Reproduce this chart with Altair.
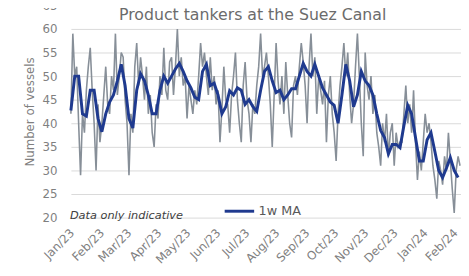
import altair as alt
import pandas as pd

title_text = "Product tankers at the Suez Canal"
y_title = "Number of vessels"
note_text = "Data only indicative"
ma_name = "1w MA"

# daily vessel counts, read every 2 days from 2023-01-01
gray_values = [
    42, 59, 50, 52, 40, 29, 42, 38, 47, 52, 56, 47, 40, 30, 44, 36, 40, 46, 52, 44,
    42, 50, 47, 59, 46, 50, 55, 54, 45, 40, 29, 42, 38, 52, 57, 48, 54, 50, 45, 52,
    42, 46, 38, 35, 44, 41, 50, 46, 56, 47, 45, 53, 54, 46, 52, 60, 50, 54, 48, 50,
    41, 48, 45, 42, 47, 44, 50, 57, 52, 55, 50, 46, 54, 47, 50, 44, 47, 36, 43, 52,
    45, 44, 38, 46, 50, 55, 45, 40, 36, 48, 53, 45, 42, 36, 44, 42, 48, 52, 59, 50,
    52, 55, 50, 44, 35, 46, 57, 49, 44, 50, 42, 53, 46, 40, 37, 48, 50, 46, 52, 57,
    53, 48, 40, 52, 59, 50, 54, 42, 50, 47, 44, 49, 36, 46, 50, 42, 38, 32, 42, 48,
    52, 57, 50, 55, 46, 40, 44, 52, 59, 50, 40, 33, 55, 48, 45, 50, 42, 46, 38, 35,
    31, 40, 36, 42, 33, 38, 40, 31, 38, 35, 36, 36, 42, 48, 40, 44, 38, 47, 36, 28,
    34, 30, 36, 42, 38, 40, 36, 31, 28, 24, 32, 30, 27, 33, 30, 38, 32, 26, 21, 30,
    33, 31,
]

# 1-week moving average, read every 4 days from 2023-01-01
ma_values = [
    42.7, 50, 50, 42, 41.5, 47, 47, 41, 38.2, 42, 44.5, 46, 49, 52.5, 48, 41, 39, 47, 50.5, 49,
    46, 42, 42, 47, 50, 48.5, 50, 51.5, 52.7, 51, 49, 47.5, 45.5, 45, 51, 52.5, 48, 48.5, 46, 42,
    43.5, 46.9, 46, 47.5, 47, 44, 45, 43.5, 42.5, 47, 51, 52, 49, 46.5, 47, 45, 46, 47.3, 47.3, 50,
    52.7, 51, 50, 52.5, 50, 47.5, 46, 44.5, 43.8, 40, 46, 52.5, 49, 43.5, 46, 51, 49, 48, 46, 42,
    38.5, 37, 33.5, 35.5, 35.5, 34.8, 39.5, 43.8, 42, 37, 32, 32, 36.5, 38, 34, 30, 28.5, 30.5, 32.7, 30,
    28.5,
]

y_ticks = [20, 25, 30, 35, 40, 45, 50, 55, 60, 65]
month_ticks = [(2023, m) for m in range(1, 13)] + [(2024, 1), (2024, 2)]

gray_df = pd.DataFrame({
    "date": pd.date_range("2023-01-01", periods=len(gray_values), freq="2D"),
    "vessels": gray_values,
})
ma_df = pd.DataFrame({
    "date": pd.date_range("2023-01-01", periods=len(ma_values), freq="4D"),
    "vessels": ma_values,
    "series": ma_name,
})

label_color = "#7f7f7f"

x_enc = alt.X(
    "date:T",
    scale=alt.Scale(domain=[alt.DateTime(year=2023, month=1, date=1),
                            alt.DateTime(year=2024, month=2, date=8)]),
    axis=alt.Axis(
        title=None,
        values=[alt.DateTime(year=y, month=m, date=1) for y, m in month_ticks],
        format="%b/%y",
        labelAngle=315,
        labelAlign="right",
        labelBaseline="middle",
        labelPadding=13,
        labelOffset=1,
        labelOverlap=False,
        labelFlush=False,
        labelBound=False,
        labelFont="DejaVu Sans",
        labelFontSize=12,
        labelColor=label_color,
        ticks=False,
        domain=False,
        grid=False,
    ),
)
y_enc = alt.Y(
    "vessels:Q",
    scale=alt.Scale(domain=[20, 65], nice=False, zero=False),
    axis=alt.Axis(
        title=y_title,
        values=y_ticks,
        labelFont="DejaVu Sans",
        labelFontSize=12,
        labelColor=label_color,
        labelPadding=14,
        titleFont="DejaVu Sans",
        titleFontSize=12,
        titleFontWeight="normal",
        titleColor=label_color,
        titlePadding=6,
        ticks=False,
        domain=False,
        grid=True,
        gridColor="#d9d9d9",
        gridWidth=1,
    ),
)

gray_line = alt.Chart(gray_df).mark_line(color="#878f98", strokeWidth=1.6).encode(
    x=x_enc, y=y_enc
)

ma_line = alt.Chart(ma_df).mark_line(strokeWidth=3).encode(
    x=x_enc,
    y=y_enc,
    color=alt.Color(
        "series:N",
        scale=alt.Scale(domain=[ma_name], range=["#1f3a8f"]),
        legend=alt.Legend(
            title=None,
            orient="none",
            legendX=155,
            legendY=193,
            symbolType="stroke",
            symbolSize=900,
            symbolStrokeWidth=3,
            labelFont="DejaVu Sans",
            labelFontSize=13,
            labelColor="#595959",
            labelOffset=3,
            padding=0,
        ),
    ),
)

title_layer = alt.Chart(pd.DataFrame({"t": [title_text]})).mark_text(
    font="DejaVu Sans", fontSize=16, color="#6b6b6b", align="center", baseline="middle"
).encode(text="t:N", x=alt.value(185), y=alt.value(10))

note_layer = alt.Chart(pd.DataFrame({"t": [note_text]})).mark_text(
    font="DejaVu Sans", fontSize=11.5, fontStyle="italic", color="#404040",
    align="left", baseline="alphabetic"
).encode(text="t:N", x=alt.value(-1), y=alt.value(217))

chart = alt.layer(gray_line, ma_line, title_layer, note_layer).properties(
    width=397,
    height=216,
    autosize=alt.AutoSizeParams(type="none"),
    padding={"left": 64, "top": -5, "right": 0, "bottom": 50},
).configure_view(stroke=None)

chart.save("out.html", embed_options={"renderer": "svg", "actions": False})
